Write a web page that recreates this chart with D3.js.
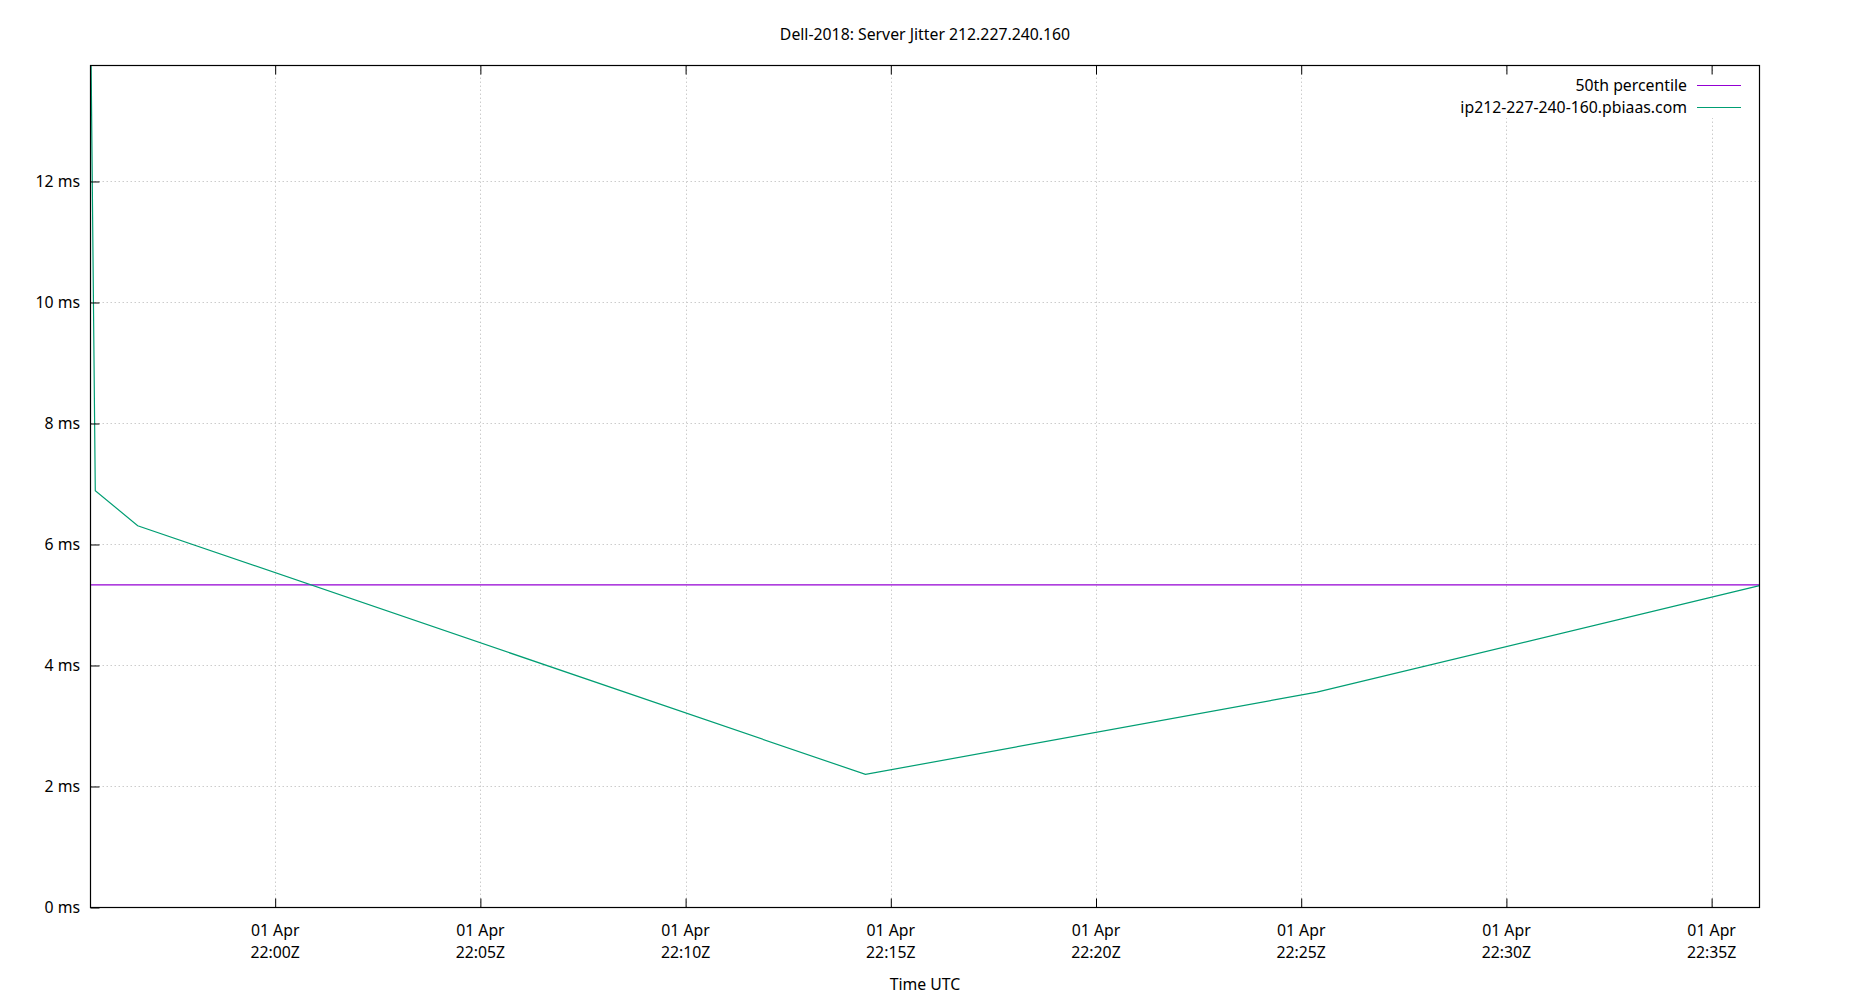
<!DOCTYPE html>
<html>
<head>
<meta charset="utf-8">
<script src="https://cdn.jsdelivr.net/npm/d3@7"></script>
<style>
  html, body { margin: 0; padding: 0; background: #fff; }
  svg { display: block; font-family: "Noto Sans", "Open Sans", sans-serif; }
</style>
</head>
<body>
<svg id="chart" width="1850" height="1000"></svg>
<script>
// ---- data ----
const chartTitle = "Dell-2018: Server Jitter 212.227.240.160";
const xAxisTitle = "Time UTC";
const day = "2023-04-01";
const sampleTimes = ["21:55:30", "21:55:37", "21:56:39", "22:14:23", "22:25:23", "22:36:10"];
const jitterValues = [15.0, 6.89, 6.31, 2.20, 3.56, 5.32];
const percentile50 = 5.334;
const seriesNames = ["50th percentile", "ip212-227-240-160.pbiaas.com"];
const seriesColors = ["#9400d3", "#009e73"];
const yTickValues = [0, 2, 4, 6, 8, 10, 12];
const xTickTimes = ["22:00", "22:05", "22:10", "22:15", "22:20", "22:25", "22:30", "22:35"];
const xTickDateLabel = "01 Apr";
const xDomainTimes = ["21:55:30", "22:36:10"];
const yDomain = [0, 13.917];

// ---- layout ----
const W = 1850, H = 1000;
const L = 90.5, R = 1759.5, T = 65.5, B = 907.5;
const FS = 15.8;
const parse = s => new Date(day + "T" + (s.length === 5 ? s + ":00" : s) + "Z");

const svg = d3.select("#chart");
const x = d3.scaleUtc().domain(xDomainTimes.map(parse)).range([L, R]);
const y = d3.scaleLinear().domain(yDomain).range([B, T]);

const data = sampleTimes.map((t, i) => ({ t: parse(t), v: jitterValues[i] }));
const xTicks = xTickTimes.map(parse);

// grid
const grid = svg.append("g").attr("class", "grid")
  .attr("stroke", "#cccccc").attr("stroke-width", 1).attr("stroke-dasharray", "1.5,2.5");
grid.selectAll("line.h").data(yTickValues.filter(v => v > 0)).join("line")
  .attr("class", "h")
  .attr("x1", L).attr("x2", R)
  .attr("y1", d => Math.round(y(d)) + 0.5).attr("y2", d => Math.round(y(d)) + 0.5);
grid.selectAll("line.v").data(xTicks).join("line")
  .attr("class", "v")
  .attr("x1", d => Math.round(x(d)) + 0.5).attr("x2", d => Math.round(x(d)) + 0.5)
  .attr("y1", T).attr("y2", B);

// clip
svg.append("clipPath").attr("id", "plotclip").append("rect")
  .attr("x", L).attr("y", T).attr("width", R - L).attr("height", B - T);

// legend background (opaque key)
svg.append("rect").attr("x", 1455).attr("y", 74).attr("width", 296).attr("height", 44).attr("fill", "#fff");

// percentile line
svg.append("line")
  .attr("x1", L).attr("x2", R)
  .attr("y1", y(percentile50)).attr("y2", y(percentile50))
  .attr("stroke", seriesColors[0]).attr("stroke-width", 1.2);

// jitter series
svg.append("path").datum(data)
  .attr("clip-path", "url(#plotclip)")
  .attr("fill", "none").attr("stroke", seriesColors[1]).attr("stroke-width", 1.2)
  .attr("d", d3.line().x(d => x(d.t)).y(d => y(d.v)));

// axes (inward ticks)
const yAxis = svg.append("g").attr("transform", `translate(${L},0)`)
  .call(d3.axisLeft(y).tickValues(yTickValues).tickSize(-9).tickPadding(10.5).tickFormat(d => d + " ms"));
yAxis.select(".domain").remove();
yAxis.selectAll("text").attr("font-size", FS).attr("fill", "#000")
  .attr("font-family", "Noto Sans, Open Sans, sans-serif");
yAxis.selectAll("line").attr("stroke", "#000");

const xAxis = svg.append("g").attr("transform", `translate(0,${B})`)
  .call(d3.axisBottom(x).tickValues(xTicks).tickSize(-9).tickFormat(""));
xAxis.select(".domain").remove();
xAxis.selectAll("line").attr("stroke", "#000");

const xTop = svg.append("g").attr("transform", `translate(0,${T})`)
  .call(d3.axisTop(x).tickValues(xTicks).tickSize(-9).tickFormat(""));
xTop.select(".domain").remove();
xTop.selectAll("line").attr("stroke", "#000");

// x tick labels (two lines)
const fmtTime = d3.utcFormat("%H:%MZ");
const xl = svg.append("g").attr("font-size", FS).attr("text-anchor", "middle").attr("fill", "#000");
xl.selectAll("text.d").data(xTicks).join("text").attr("class", "d")
  .attr("x", d => x(d)).attr("y", 936).text(xTickDateLabel);
xl.selectAll("text.t").data(xTicks).join("text").attr("class", "t")
  .attr("x", d => x(d)).attr("y", 957.5).text(d => fmtTime(d));

// border
svg.append("rect").attr("x", L).attr("y", T).attr("width", R - L).attr("height", B - T)
  .attr("fill", "none").attr("stroke", "#000").attr("stroke-width", 1.2);

// title & axis label
svg.append("text").attr("x", W / 2).attr("y", 39.5).attr("text-anchor", "middle")
  .attr("font-size", FS).attr("fill", "#000").text(chartTitle);
svg.append("text").attr("x", W / 2).attr("y", 990).attr("text-anchor", "middle")
  .attr("font-size", FS).attr("fill", "#000").text(xAxisTitle);

// legend
const leg = svg.append("g").attr("font-size", FS).attr("fill", "#000");
seriesNames.forEach((name, i) => {
  const cy = 85.5 + i * 22;
  leg.append("text").attr("x", 1687).attr("y", cy + 5.5).attr("text-anchor", "end").text(name);
  leg.append("line").attr("x1", 1697).attr("x2", 1741).attr("y1", cy).attr("y2", cy)
    .attr("stroke", seriesColors[i]).attr("stroke-width", 1.2);
});
</script>
</body>
</html>
